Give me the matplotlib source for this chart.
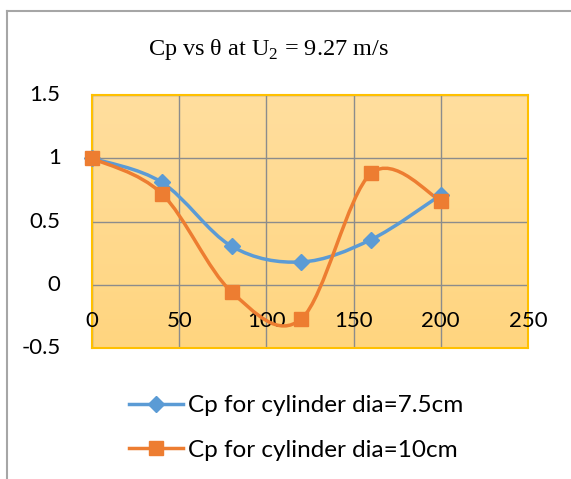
import numpy as np
import matplotlib
matplotlib.use("Agg")
import matplotlib.pyplot as plt
from matplotlib.path import Path
from matplotlib.patches import PathPatch
from matplotlib.lines import Line2D
from matplotlib.colors import LinearSegmentedColormap

# data
theta = [0, 40, 80, 120, 160, 200]
cp_75 = [1.0, 0.81, 0.305, 0.18, 0.357, 0.71]
cp_10 = [1.0, 0.72, -0.056, -0.27, 0.88, 0.665]
labels = ["Cp for cylinder dia=7.5cm", "Cp for cylinder dia=10cm"]
colors = ["#5B9BD5", "#ED7D31"]
xticks = [0, 50, 100, 150, 200, 250]
yticks = [-0.5, 0, 0.5, 1, 1.5]

W, H = 571, 479
fig = plt.figure(figsize=(W / 100, H / 100), dpi=100)

# outer chart border (only left/top visible in the crop)
fig.add_artist(Line2D([7 / W, 7 / W], [0, 1 - 11 / H], transform=fig.transFigure,
                      color="#A6A6A6", lw=1.5))
fig.add_artist(Line2D([7 / W, 1], [1 - 11 / H, 1 - 11 / H], transform=fig.transFigure,
                      color="#A6A6A6", lw=1.5))

ax = fig.add_axes([92 / W, 1 - 348 / H, 436 / W, 253 / H])
ax.set_xlim(0, 250)
ax.set_ylim(-0.5, 1.5)

# gradient fill of the plot area
cmap = LinearSegmentedColormap.from_list("bg", ["#FFD57F", "#FFDE9E"])
grad = np.linspace(0, 1, 256).reshape(-1, 1)
ax.imshow(grad, extent=[0, 250, -0.5, 1.5], origin="lower", aspect="auto",
          cmap=cmap, zorder=0)

for x in xticks:
    ax.axvline(x, color="#8C8C8C", lw=1, zorder=1)
for y in yticks:
    ax.axhline(y, color="#8C8C8C", lw=1, zorder=1)

for s in ax.spines.values():
    s.set_color("#FFC000")
    s.set_linewidth(1.5)
    s.set_zorder(3)

ax.set_xticks([])
ax.set_yticks([])

tick_font = dict(family="Lato", size=16, color="black")
for x in xticks:
    ax.text(x, -0.285, str(x), ha="center", va="center", **tick_font, zorder=4)
for y in yticks:
    ax.text(-18, y, f"{y:g}", ha="right", va="center", **tick_font, clip_on=False)


def smooth_path(xs, ys):
    # Excel-style smoothed line: cubic bezier with Catmull-Rom control points
    pts = np.column_stack([xs, ys]).astype(float)
    n = len(pts)
    verts = [pts[0]]
    codes = [Path.MOVETO]
    for i in range(n - 1):
        p0 = pts[i - 1] if i > 0 else pts[i]
        p1 = pts[i]
        p2 = pts[i + 1]
        p3 = pts[i + 2] if i + 2 < n else pts[i + 1]
        c1 = p1 + (p2 - p0) / 6
        c2 = p2 - (p3 - p1) / 6
        verts += [c1, c2, p2]
        codes += [Path.CURVE4] * 3
    return Path(verts, codes)


for ys, col, mk, ms in [(cp_75, colors[0], "D", 8), (cp_10, colors[1], "s", 10)]:
    ax.add_patch(PathPatch(smooth_path(theta, ys), fill=False, ec=col, lw=2.5,
                           zorder=5, clip_on=False))
    ax.plot(theta, ys, ls="none", marker=mk, ms=ms, color=col, zorder=6,
            clip_on=False)

# title
fig.text(268 / W, 1 - 50 / H, r"Cp vs θ at U$_\mathregular{2}$ = 9.27 m/s",
         ha="center", va="center", family="Liberation Serif", size=17.5)

# legend
handles = [Line2D([], [], color=colors[0], lw=2.5, marker="D", ms=8),
           Line2D([], [], color=colors[1], lw=2.5, marker="s", ms=10)]
fig.legend(handles, labels, loc="center", bbox_to_anchor=(296 / W, 1 - 428 / H),
           frameon=False, prop=dict(family="Lato", size=17.5), handlelength=2.2,
           handletextpad=0.2, labelspacing=0.95)

fig.savefig("out.png", dpi=100)
